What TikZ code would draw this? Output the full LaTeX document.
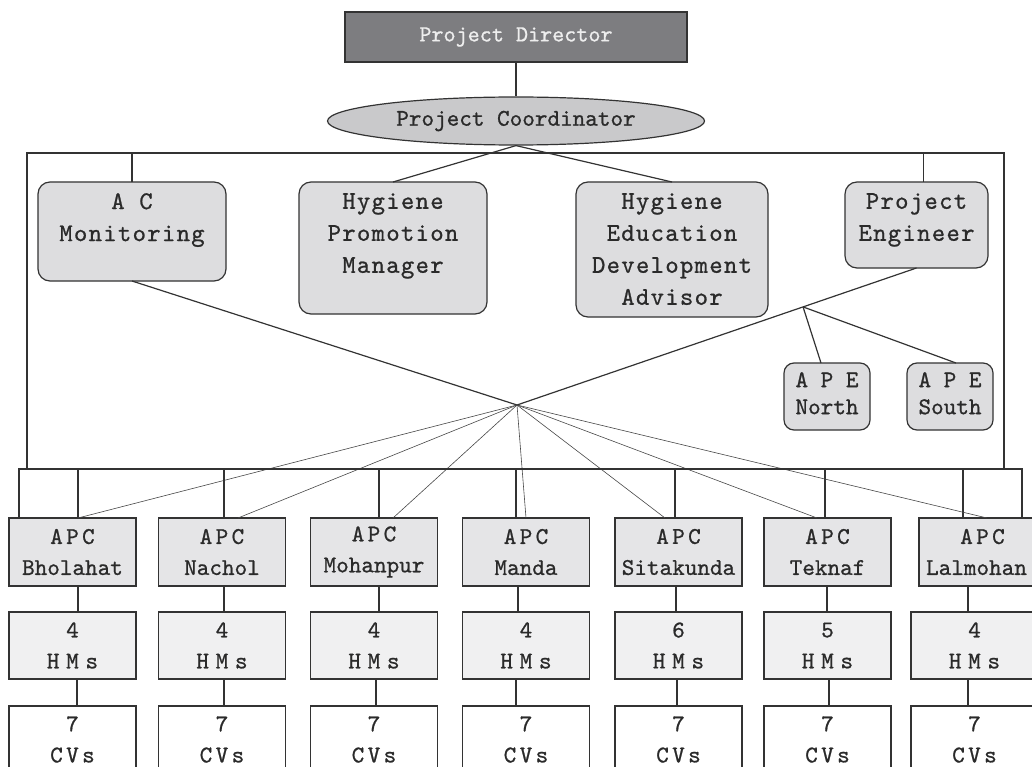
\documentclass[tikz,border=0pt]{standalone}
\usepackage{fontspec}
\newfontfamily\orgtt{lmmono10-regular.otf}[FakeBold=0.8]
\newfontfamily\orgttwide{lmmono10-regular.otf}[LetterSpace=5,FakeBold=0.8]
\usetikzlibrary{shapes.geometric,calc}

\definecolor{linegray}{HTML}{333333}
\definecolor{textgray}{HTML}{2A2A2A}
\definecolor{dirfill}{HTML}{7D7D80}
\definecolor{dirtext}{HTML}{EEEEEE}
\definecolor{coordfill}{HTML}{C9C9CB}
\definecolor{roundfill}{HTML}{DDDDDF}
\definecolor{apcfill}{HTML}{E5E5E7}
\definecolor{hmsfill}{HTML}{F0F0F1}

% letter-spaced short words
\newcommand\orgls[2]{{\addfontfeatures{LetterSpace=#1}#2}}

\tikzset{
  box/.style={draw=linegray, line width=1.2pt, inner sep=0pt, outer sep=0pt},
  rbox/.style={box, rounded corners=12pt, fill=roundfill},
  rtext/.style={inner sep=0pt, anchor=north, align=center, text=textgray,
    font=\orgttwide\fontsize{25.5}{32}\selectfont},
  apetext/.style={inner sep=0pt, anchor=north, align=center, text=textgray,
    font=\orgtt\fontsize{24}{27}\selectfont},
  rowbox/.style={box, minimum width=127pt, minimum height=68pt, align=center,
    text=textgray, font=\orgtt\fontsize{24}{31}\selectfont},
  apcbox/.style={rowbox, fill=apcfill},
  hmsbox/.style={rowbox, fill=hmsfill, minimum height=67pt},
  cvbox/.style={rowbox, fill=white, minimum height=67pt},
  conn/.style={draw=linegray, line width=1.2pt},
  thinline/.style={draw=linegray!90, line width=0.6pt},
}

\begin{document}
\begin{tikzpicture}[x=1pt, y=-1pt]
\useasboundingbox (0,0) rectangle (1032,767);
\clip (0,0) rectangle (1032,767);

% top of the hierarchy
\node[box, fill=dirfill, minimum width=342pt, minimum height=50pt,
  text=dirtext, font=\orgtt\fontsize{23}{26}\selectfont]
  (pd) at (516,37) {Project Director};
\node[ellipse, draw=linegray, line width=1.2pt, fill=coordfill, inner sep=0pt,
  minimum width=377pt, minimum height=48pt, text=textgray,
  font=\orgtt\fontsize{24}{26}\selectfont]
  (pc) at (516,121) {Project Coordinator};

% second level (rounded boxes)
\node[rbox, minimum width=188pt, minimum height=99pt] (acm) at (132,231.5) {};
\node[rbox, minimum width=188pt, minimum height=132pt] (hpm) at (393,248) {};
\node[rbox, minimum width=192pt, minimum height=135pt] (heda) at (672,249.5) {};
\node[rbox, minimum width=143pt, minimum height=86pt] (pe) at (916.5,225) {};
\node[rbox, rounded corners=10pt, minimum width=86pt, minimum height=67pt] (apen) at (827,396.5) {};
\node[rbox, rounded corners=10pt, minimum width=86pt, minimum height=67pt] (apes) at (950,396.5) {};

\node[rtext] (acmtext) at ($(acm.north)+(0,11)$) {A C\\Monitoring};
\node[rtext] (hpmtext) at ($(hpm.north)+(0,11)$) {Hygiene\\Promotion\\Manager};
\node[rtext] (hedatext) at ($(heda.north)+(0,11)$) {Hygiene\\Education\\Development\\Advisor};
\node[rtext] (petext) at ($(pe.north)+(0,11)$) {Project\\Engineer};
\node[apetext] (apentext) at ($(apen.north)+(0,9)$) {A P E\\North};
\node[apetext] (apestext) at ($(apes.north)+(0,9)$) {A P E\\South};

% frame and bus
\coordinate (ftl) at (27,153);
\coordinate (ftr) at (1004,153);
\coordinate (busy) at (0,469);
\coordinate (hub) at (517,405);

\draw[conn] (pd.south) -- (pc.north);
\draw[conn] (pc.south) -- (hpm.north);
\draw[conn] (pc.south) -- (heda.north);
\draw[conn] (ftl |- busy) -- (ftl) -- (ftr) -- (ftr |- busy);
\draw[conn] (acm.north) -- (acm.north |- ftl);
\draw[conn] ($(pe.north)+(7,0)$) coordinate (pet) -- (pet |- ftr);
\draw[conn] (acm.south) -- (hub);
\draw[conn] (pe.south) -- (hub);
\coordinate (apebr) at ($(pe.south)!0.284!(hub)$);
\draw[conn] (apebr) -- ($(apen.north)+(-6,0)$);
\draw[conn] (apebr) -- ($(apes.north)+(6,0)$);

% bottom rows
\foreach \i/\cx/\hx/\place/\n/\dx/\tx/\ax/\bx in {
  1/72.5/72.5/Bholahat/4/5.5/5.5/5.5/4.5,
  2/222/222/Nachol/4/2/16/2/2,
  3/374/374/Mohanpur/4/5/19/5/2,
  4/526/526/Manda/4/-10/0/-8/-10,
  5/678.5/678.5/Sitakunda/6/-3.5/-13.5/-2.5/-1.5,
  6/827.5/827.5/Teknaf/5/-2.5/-10.5/-0.5/1.5,
  7/982.5/974.5/Lalmohan\hspace*{12pt}/4/-19.5/4.5/-14.5/-6.5}{
  \node[apcbox] (apc\i) at (\cx,552) {\orgls{14}{APC}\\\place};
  \node[hmsbox] (hms\i) at (\hx,645.5) {\n\\\orgls{28}{HMs}};
  \node[cvbox] (cv\i) at (\hx,739.5) {7\\\orgls{14}{CVs}};
  \draw[conn] ($(apc\i.north)+(\dx,0)$) coordinate (drop) -- (drop |- busy);
  \draw[thinline] (hub) -- ($(apc\i.north)+(\tx,0)$);
  \draw[conn] ($(apc\i.south)+(\ax,0)$) coordinate (ca) -- (ca |- hms\i.north);
  \draw[conn] ($(hms\i.south)+(\bx,0)$) coordinate (cb) -- (cb |- cv\i.north);
}

\coordinate (bl) at ($(apc1.north west)+(10,0)$);
\coordinate (br) at ($(apc7.north)+(39.5,0)$);
\draw[conn] (bl) -- (bl |- busy) -- (br |- busy) -- (br);
\end{tikzpicture}
\end{document}
